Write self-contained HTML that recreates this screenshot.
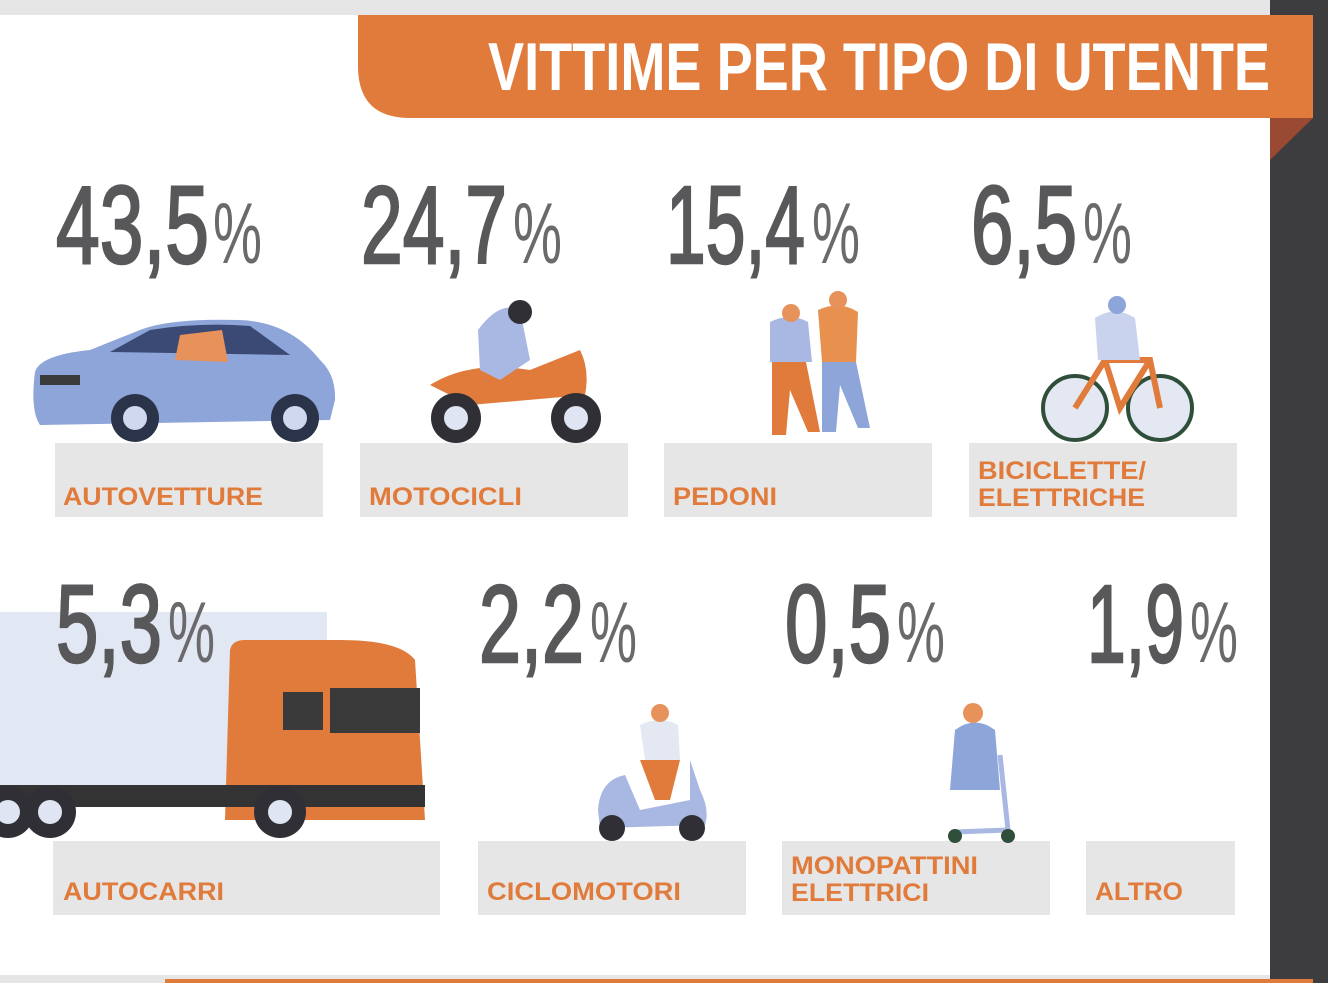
<!DOCTYPE html>
<html><head><meta charset="utf-8"><style>
html,body{margin:0;padding:0;background:#fff;}
svg{display:block;}
text{font-family:"Liberation Sans",sans-serif;}
</style></head><body>
<svg width="1328" height="983" viewBox="0 0 1328 983" xmlns="http://www.w3.org/2000/svg">
<rect x="0" y="0" width="1328" height="983" fill="#fff"/>
<rect x="0" y="0" width="1270" height="15" fill="#e6e6e6"/>
<rect x="1270" y="0" width="58" height="983" fill="#3d3d3f"/>
<rect x="0" y="975" width="1270" height="8" fill="#e6e6e6"/>
<rect x="165" y="979" width="1148" height="4" fill="#e07b3c"/>
<!-- banner -->
<path d="M358 15 H1313 V118 H410 Q358 118 358 66 Z" fill="#e07b3c"/>
<path d="M1270 118 H1313 L1270 160 Z" fill="#9a4a32"/>
<text x="488" y="90" font-size="68" font-weight="bold" fill="#fff" textLength="782" lengthAdjust="spacingAndGlyphs">VITTIME PER TIPO DI UTENTE</text>

<g fill="#58585a" stroke="#58585a" stroke-width="2.5">
<text x="56" y="263" font-size="110" textLength="153" lengthAdjust="spacingAndGlyphs">43,5</text>
<text x="361" y="263" font-size="110" textLength="146" lengthAdjust="spacingAndGlyphs">24,7</text>
<text x="666" y="263" font-size="110" textLength="139" lengthAdjust="spacingAndGlyphs">15,4</text>
<text x="971" y="263" font-size="110" textLength="106" lengthAdjust="spacingAndGlyphs">6,5</text>
<text x="56" y="662" font-size="110" textLength="106" lengthAdjust="spacingAndGlyphs">5,3</text>
<text x="479" y="662" font-size="110" textLength="105" lengthAdjust="spacingAndGlyphs">2,2</text>
<text x="785" y="662" font-size="110" textLength="106" lengthAdjust="spacingAndGlyphs">0,5</text>
<text x="1087" y="662" font-size="110" textLength="97" lengthAdjust="spacingAndGlyphs">1,9</text>
</g>
<g fill="#6a6a6c">
<text x="213" y="263" font-size="86" textLength="49" lengthAdjust="spacingAndGlyphs">%</text>
<text x="513" y="263" font-size="86" textLength="49" lengthAdjust="spacingAndGlyphs">%</text>
<text x="812" y="263" font-size="86" textLength="48" lengthAdjust="spacingAndGlyphs">%</text>
<text x="1083" y="263" font-size="86" textLength="49" lengthAdjust="spacingAndGlyphs">%</text>
<text x="168" y="662" font-size="86" textLength="47" lengthAdjust="spacingAndGlyphs">%</text>
<text x="590" y="662" font-size="86" textLength="47" lengthAdjust="spacingAndGlyphs">%</text>
<text x="897" y="662" font-size="86" textLength="48" lengthAdjust="spacingAndGlyphs">%</text>
<text x="1190" y="662" font-size="86" textLength="48" lengthAdjust="spacingAndGlyphs">%</text>
</g>

<g fill="#e6e6e6">
<rect x="55" y="443" width="268" height="74"/>
<rect x="360" y="443" width="268" height="74"/>
<rect x="664" y="443" width="268" height="74"/>
<rect x="969" y="443" width="268" height="74"/>
<rect x="53" y="841" width="387" height="74"/>
<rect x="478" y="841" width="268" height="74"/>
<rect x="782" y="841" width="268" height="74"/>
<rect x="1086" y="841" width="149" height="74"/>
</g>
<g fill="#e07b3c" font-weight="bold" font-size="25">
<text x="63" y="505" textLength="200" lengthAdjust="spacingAndGlyphs">AUTOVETTURE</text>
<text x="369" y="505" textLength="153" lengthAdjust="spacingAndGlyphs">MOTOCICLI</text>
<text x="673" y="505" textLength="104" lengthAdjust="spacingAndGlyphs">PEDONI</text>
<text x="978" y="479" textLength="168" lengthAdjust="spacingAndGlyphs">BICICLETTE/</text>
<text x="978" y="506" textLength="167" lengthAdjust="spacingAndGlyphs">ELETTRICHE</text>
<text x="63" y="900" textLength="161" lengthAdjust="spacingAndGlyphs">AUTOCARRI</text>
<text x="487" y="900" textLength="194" lengthAdjust="spacingAndGlyphs">CICLOMOTORI</text>
<text x="791" y="874" textLength="187" lengthAdjust="spacingAndGlyphs">MONOPATTINI</text>
<text x="791" y="901" textLength="138" lengthAdjust="spacingAndGlyphs">ELETTRICI</text>
<text x="1095" y="900" textLength="88" lengthAdjust="spacingAndGlyphs">ALTRO</text>
</g>

<!-- car -->
<g>
<path d="M35 372 Q40 355 90 350 L140 330 Q170 318 240 320 Q290 322 320 360 Q336 375 335 400 L330 420 L40 425 Q30 410 35 372 Z" fill="#8ea5d9"/>
<path d="M110 352 L150 330 Q200 322 250 326 L290 355 Z" fill="#3b4a75"/>
<path d="M180 335 L222 330 L228 362 L175 360 Z" fill="#e6925a"/>
<rect x="40" y="375" width="40" height="10" fill="#3b3b3b"/>
<circle cx="135" cy="418" r="24" fill="#2a3347"/><circle cx="135" cy="418" r="12" fill="#cfd8ef"/>
<circle cx="295" cy="418" r="24" fill="#2a3347"/><circle cx="295" cy="418" r="12" fill="#cfd8ef"/>
</g>
<!-- motorcycle -->
<g>
<path d="M430 385 Q470 360 530 370 L580 350 Q590 370 585 395 L470 405 Z" fill="#e07b3c"/>
<path d="M478 330 Q500 300 520 310 L530 360 L500 380 L480 370 Z" fill="#a9b8e3"/>
<circle cx="520" cy="312" r="12" fill="#2f2f35"/>
<circle cx="456" cy="418" r="25" fill="#2f2f35"/><circle cx="456" cy="418" r="12" fill="#dfe5f3"/>
<circle cx="576" cy="418" r="25" fill="#2f2f35"/><circle cx="576" cy="418" r="12" fill="#dfe5f3"/>
</g>
<!-- pedestrians -->
<g>
<path d="M770 322 Q790 312 808 322 L812 362 L770 362 Z" fill="#a9b8e3"/>
<path d="M772 362 H806 L820 432 H808 L790 390 L786 435 H772 Z" fill="#e07b3c"/>
<circle cx="791" cy="313" r="9" fill="#e6925a"/>
<path d="M818 310 Q840 300 858 312 L856 362 L822 362 Z" fill="#e8914f"/>
<path d="M822 362 H856 L870 428 H858 L840 385 L836 432 H822 Z" fill="#8ea5d9"/>
<circle cx="838" cy="300" r="9" fill="#e6925a"/>
</g>
<!-- bicycle -->
<g fill="none" stroke-width="4">
<circle cx="1075" cy="408" r="32" stroke="#2f4f3a" fill="#e3e8f3"/>
<circle cx="1160" cy="408" r="32" stroke="#2f4f3a" fill="#e3e8f3"/>
<path d="M1075 408 L1105 360 L1150 360 L1160 408 M1105 360 L1120 408 L1150 360" stroke="#e07b3c" stroke-width="6"/>
</g>
<path d="M1095 318 Q1115 305 1135 318 L1140 360 L1098 360 Z" fill="#c9d3ee"/>
<circle cx="1117" cy="305" r="9" fill="#8ea5d9"/>

<!-- truck -->
<rect x="0" y="612" width="327" height="178" fill="#dfe5f2" opacity="0.9"/>
<path d="M230 650 Q232 640 245 640 L340 640 Q400 640 415 660 L425 820 L225 820 Z" fill="#e07b3c"/>
<rect x="330" y="688" width="90" height="45" fill="#3a3a3a"/>
<rect x="283" y="692" width="40" height="38" fill="#3a3a3a"/>
<rect x="0" y="785" width="425" height="22" fill="#333"/>
<g fill="#2f2f35">
<circle cx="8" cy="812" r="26"/><circle cx="50" cy="812" r="26"/><circle cx="280" cy="812" r="26"/>
</g>
<g fill="#dfe5f3"><circle cx="8" cy="812" r="12"/><circle cx="50" cy="812" r="12"/><circle cx="280" cy="812" r="12"/></g>
<!-- redraw 5,3 over truck -->
<g fill="#58585a" stroke="#58585a" stroke-width="2.5">
<text x="56" y="662" font-size="110" textLength="106" lengthAdjust="spacingAndGlyphs">5,3</text>
</g>
<text x="168" y="662" font-size="86" textLength="47" lengthAdjust="spacingAndGlyphs" fill="#6a6a6c">%</text>
<!-- scooter -->
<path d="M598 810 Q600 780 625 775 L640 810 L690 800 L690 760 L700 790 Q710 810 705 825 L600 828 Z" fill="#a9b8e3"/>
<path d="M640 725 Q660 715 678 725 L680 760 L645 760 Z" fill="#e3e8f3"/>
<path d="M640 760 H680 L670 800 H655 Z" fill="#e07b3c"/>
<circle cx="660" cy="713" r="9" fill="#e6925a"/>
<circle cx="612" cy="828" r="13" fill="#2f2f35"/><circle cx="692" cy="828" r="13" fill="#2f2f35"/>
<!-- kick scooter -->
<path d="M955 730 Q975 715 995 730 L1000 790 L950 790 Z" fill="#8ea5d9"/>
<circle cx="973" cy="713" r="10" fill="#e6925a"/>
<path d="M1000 755 L1008 830 L955 832" stroke="#a9b8e3" stroke-width="5" fill="none"/>
<circle cx="955" cy="836" r="7" fill="#2f4f3a"/><circle cx="1008" cy="836" r="7" fill="#2f4f3a"/>
</svg>
</body></html>
